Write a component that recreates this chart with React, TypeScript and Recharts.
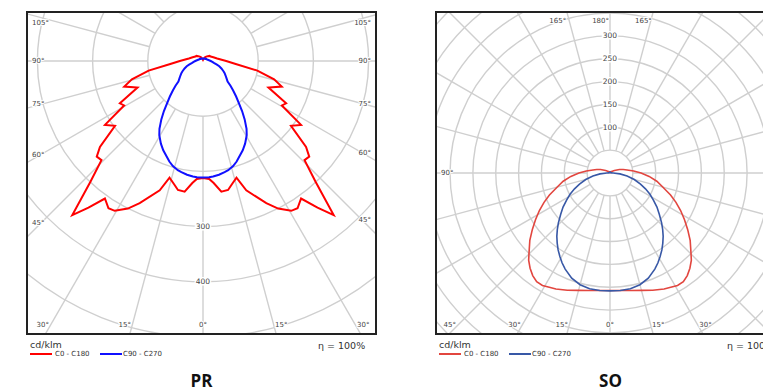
import { RadarChart, Radar, PolarGrid, PolarAngleAxis, PolarRadiusAxis } from 'recharts';

// gamma = angle from nadir (deg), one half of each C-plane pair, mirrored for the other half
const prGamma = [0, 3, 5, 8, 11, 13, 16, 18.5, 24, 27, 30.5, 32.7, 35.5, 38, 40.3, 43, 45.7, 48, 50.2, 53.6, 56.9, 60.6, 63, 67.9, 72, 75.6, 80, 85, 90, 100, 110, 120, 128, 140, 150, 160, 170, 180];
const prC0C180 = [212, 214, 222, 239, 238, 230, 220, 247, 282, 300, 315, 317, 306, 337, 366, 299, 257, 259, 243, 198, 212, 164, 169, 128, 150, 133, 100, 58, 42, 26, 20, 16, 15, 11, 8, 5, 3, 2];
const prC90C270 = [211, 211, 210, 208, 205, 203, 198, 192, 177, 168, 156, 146, 130, 115, 101, 88, 76, 67, 58, 53, 49, 45, 42, 36, 31, 26, 20, 17, 14, 10, 8, 7, 6, 6, 5, 5, 4, 4];
const prRings = [100, 200, 300, 400, 500, 600];
const prRingLabels = [300, 400];
const prLabelsRight = [0, 15, 30, 45, 60, 75, 90, 105];
const prLabelsLeft = [15, 30, 45, 60, 75, 90, 105];

const soGamma = [0, 5, 10, 15, 20, 25, 28, 31, 34, 37, 40, 43, 46, 50, 54, 58, 62, 66, 70, 75, 80, 85, 90, 95, 100, 105, 110, 120, 135, 150, 165, 180];
const soC0C180 = [257, 258, 261, 266, 273, 280, 283, 287, 287, 281, 272, 261, 246, 229, 210, 192, 175, 158, 141, 120, 104, 86, 68, 52, 38, 30, 22, 11, 5, 3, 2, 1];
const soC90C270 = [258, 258, 257, 253, 245, 232, 223, 213, 203, 192, 181, 169, 157, 141, 127, 112, 99, 85, 71, 55, 38, 22, 7, 3, 2, 2, 2, 2, 2, 2, 2, 2];
const soRings = [50, 100, 150, 200, 250, 300, 350, 400, 450, 500, 550];
const soRingLabels = [100, 150, 200, 250, 300];
const soLabelsRight = [0, 15, 30, 165, 180];
const soLabelsLeft = [15, 30, 45, 90, 165];

const angleTicks = [0, 15, 30, 45, 60, 75, 90, 105, 120, 135, 150, 165, 180, 195, 210, 225, 240, 255, 270, 285, 300, 315, 330, 345];
const seriesNames = ['C0 - C180', 'C90 - C270'];

const W = 347;
const H = 320;
const labelFont = '"DejaVu Sans", Verdana, sans-serif';

function buildRows(gamma: number[], c0: number[], c90: number[]) {
    const rows = gamma.map((g, i) => ({ angle: g, c0: c0[i], c90: c90[i] }));
    const other = gamma
        .map((g, i) => ({ angle: 360 - g, c0: c0[i], c90: c90[i] }))
        .filter(r => r.angle > 180 && r.angle < 360)
        .reverse();
    return [...rows, ...other];
}

function makeAngleTick(cx: number, cy: number, right: number[], left: number[]) {
    return (p: any) => {
        const v = p.payload.value;
        const g = v > 180 ? 360 - v : v;
        const shown = v > 180 ? left : right;
        if (!shown.includes(g)) return <g key={p.index} />;
        const a = (p.payload.coordinate * Math.PI) / 180;
        const dx = Math.cos(a);
        const dy = -Math.sin(a);
        const tSide = Math.abs(dx) < 1e-6 ? Infinity : ((dx > 0 ? W - 13 : 13) - cx) / dx;
        const tVert = Math.abs(dy) < 1e-6 ? Infinity : ((dy > 0 ? H - 7 : 0) - cy) / dy;
        let x: number, y: number, anchor: string;
        if (tSide <= tVert) {
            x = dx > 0 ? W - 4 : 4;
            y = Math.min(Math.max(cy + tSide * dy, 10), H - 20);
            anchor = dx > 0 ? 'end' : 'start';
        } else if (dy > 0) {
            const rx = cx + tVert * dx;
            y = H - 8;
            if (Math.abs(dx) < 1e-3) {
                x = rx;
                anchor = 'middle';
            } else {
                x = dx > 0 ? rx + 1 : rx - 1;
                anchor = dx > 0 ? 'start' : 'end';
            }
        } else {
            x = cx + tVert * dx - 1;
            y = 8;
            anchor = 'end';
        }
        return <text key={p.index} x={x} y={y} textAnchor={anchor} dominantBaseline="central" fontSize={7}
                     fontFamily={labelFont} fill="#444" stroke="#fff" strokeWidth={2} paintOrder="stroke">{g}°</text>;
    };
}

function makeRingTick(shown: number[]) {
    return (p: any) => {
        const v = p.payload.value;
        if (!shown.includes(v)) return <g key={p.index} />;
        return <text key={p.index} x={p.x} y={p.y} textAnchor="middle" dominantBaseline="central" fontSize={7.5}
                     fontFamily={labelFont} fill="#444" stroke="#fff" strokeWidth={3} paintOrder="stroke">{v}</text>;
    };
}

function Diagram(props: {
    rows: any[], rings: number[], ringLabels: number[], labelsRight: number[], labelsLeft: number[],
    cx: number, cy: number, pxPerCd: number, ringAngle: number,
    red: string, blue: string, lineWidth: number
}) {
    const lo = props.rings[0];
    const hi = props.rings[props.rings.length - 1];
    return (
        <RadarChart width={W} height={H} data={props.rows} cx={props.cx} cy={props.cy}
                    innerRadius={lo * props.pxPerCd} outerRadius={hi * props.pxPerCd}
                    startAngle={-90} endAngle={270} margin={{ top: 0, right: 0, bottom: 0, left: 0 }}>
            <PolarGrid gridType="circle" stroke="#cfcfcf" strokeWidth={1.4} />
            <PolarAngleAxis dataKey="angle" type="number" domain={[0, 360]} ticks={angleTicks} tickCount={24}
                            axisLine={false} tickLine={false}
                            tick={makeAngleTick(props.cx, props.cy, props.labelsRight, props.labelsLeft)} />
            <PolarRadiusAxis type="number" domain={[lo, hi]} allowDataOverflow ticks={props.rings}
                             angle={props.ringAngle} axisLine={false} tickLine={false}
                             tick={makeRingTick(props.ringLabels)} />
            <Radar dataKey="c0" name={seriesNames[0]} stroke={props.red} strokeWidth={props.lineWidth}
                   fill="none" fillOpacity={0} dot={false} isAnimationActive={false} />
            <Radar dataKey="c90" name={seriesNames[1]} stroke={props.blue} strokeWidth={props.lineWidth}
                   fill="none" fillOpacity={0} dot={false} isAnimationActive={false} />
        </RadarChart>
    );
}

function Panel(props: { left: number, title: string, red: string, blue: string, children: any }) {
    const l = props.left;
    const small = { position: 'absolute' as const, fontSize: 7, fontFamily: labelFont, color: '#333', whiteSpace: 'nowrap' as const, lineHeight: '8px' };
    const big = { position: 'absolute' as const, fontSize: 9.5, fontFamily: labelFont, color: '#333', whiteSpace: 'nowrap' as const, lineHeight: '11px' };
    return <>
        <div style={{ position: 'absolute', left: l, top: 11, width: W, height: H, border: '2px solid #222', overflow: 'hidden', background: '#fff' }}>
            {props.children}
        </div>
        <div style={{ ...big, left: l + 4, top: 339 }}>cd/klm</div>
        <div style={{ ...big, left: l + 292, top: 340 }}>η = 100%</div>
        <div style={{ position: 'absolute', left: l + 4, top: 353, width: 22, height: 2, background: props.red }} />
        <div style={{ ...small, left: l + 29, top: 350 }}>{seriesNames[0]}</div>
        <div style={{ position: 'absolute', left: l + 74, top: 353, width: 22, height: 2, background: props.blue }} />
        <div style={{ ...small, left: l + 97, top: 350 }}>{seriesNames[1]}</div>
        <div style={{ position: 'absolute', left: l, width: W + 4, top: 370, textAlign: 'center', fontFamily: '"Open Sans", sans-serif',
                      fontWeight: 700, fontSize: 17, lineHeight: '22px', color: '#111' }}>{props.title}</div>
    </>;
}

export default function App() {
    const prRows = buildRows(prGamma, prC0C180, prC90C270);
    const soRows = buildRows(soGamma, soC0C180, soC90C270);
    return (
        <div style={{ position: 'fixed', left: 0, top: 0, width: 763, height: 392, overflow: 'hidden', background: '#fff' }}>
            <Panel left={26} title="PR" red="#ff0000" blue="#1010ff">
                <Diagram rows={prRows} rings={prRings} ringLabels={prRingLabels} labelsRight={prLabelsRight} labelsLeft={prLabelsLeft}
                         cx={175} cy={48} pxPerCd={0.552} ringAngle={-90} red="#ff0000" blue="#1010ff" lineWidth={2} />
            </Panel>
            <Panel left={435} title="SO" red="#e2463f" blue="#3858a6">
                <Diagram rows={soRows} rings={soRings} ringLabels={soRingLabels} labelsRight={soLabelsRight} labelsLeft={soLabelsLeft}
                         cx={173} cy={160} pxPerCd={0.457} ringAngle={90} red="#e2463f" blue="#3858a6" lineWidth={1.6} />
            </Panel>
        </div>
    );
}
